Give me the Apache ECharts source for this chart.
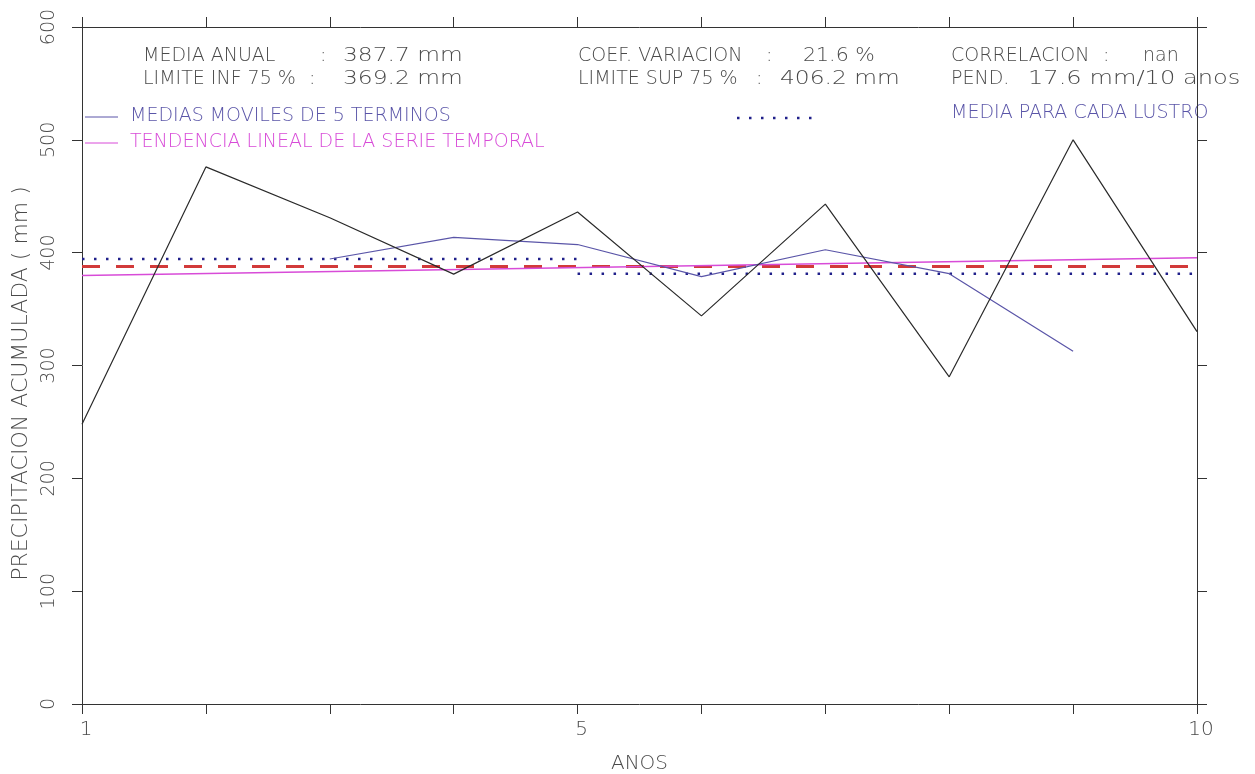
<!DOCTYPE html>
<html>
<head>
<meta charset="utf-8">
<script src="https://cdn.jsdelivr.net/npm/echarts@6/dist/echarts.min.js"></script>
<style>
html,body{margin:0;padding:0;background:#fff;}
#chart{width:1255px;height:774px;}
</style>
</head>
<body>
<div id="chart"></div>
<script>
// ---- data ----
var years = [1, 2, 3, 4, 5, 6, 7, 8, 9, 10];
var annual = [248, 476, 431, 381, 436, 344, 443, 290, 500, 330];
var maYears = [3, 4, 5, 6, 7, 8, 9];
var movingAvg = [394.4, 413.6, 407.2, 378.8, 402.6, 381.4, 312.6];
var trendYears = [1, 10];
var trendValues = [379.8, 395.6];
var meanValue = 387.7;
var lustroStart = [1, 5];
var lustroEnd = [5, 10];
var lustroMeans = [394.4, 381.4];
var xLabelYears = [1, 5, 10];
var yTicks = [0, 100, 200, 300, 400, 500, 600];
var statsLeft = [['MEDIA ANUAL', ':', '387.7 mm'], ['LIMITE INF 75 %', ':', '369.2 mm']];
var statsMid = [['COEF. VARIACION', ':', '21.6 %'], ['LIMITE SUP 75 %', ':', '406.2 mm']];
var statsRight = [['CORRELACION', ':', 'nan'], ['PEND.', '17.6 mm/10 anos']];
var legendTexts = ['MEDIAS MOVILES DE 5 TERMINOS', 'TENDENCIA LINEAL DE LA SERIE TEMPORAL', 'MEDIA PARA CADA LUSTRO'];

var FONT = "'DejaVu Sans', 'Noto Sans', sans-serif";
var W = 200;
var TXT = '#4a4a4a';
var C_MA = '#5a55a8';
var C_TR = '#d84bd8';
var C_MEAN = '#d23a3a';
var C_LU = '#20208a';

function pairs(xs, ys) { return xs.map(function (x, i) { return [x, ys[i]]; }); }

var lustroData = [];
lustroStart.forEach(function (s, i) {
  lustroData.push([s, lustroMeans[i]]);
  lustroData.push([lustroEnd[i], lustroMeans[i]]);
  if (i < lustroStart.length - 1) lustroData.push([lustroEnd[i], '-']);
});

var chart = echarts.init(document.getElementById('chart'), null, {renderer: 'canvas'});

var axisLine = {show: true, onZero: false, lineStyle: {color: '#333', width: 1}};
var tick = {show: true, inside: false, length: 10, lineStyle: {color: '#333', width: 1}};

function font(size) { return W + ' ' + size + 'px ' + FONT; }
function t(x, y, s, color, sx) {
  return {type: 'text', x: x, y: y, scaleX: sx || 1,
    style: {text: s, fill: color || TXT, font: font(19), verticalAlign: 'middle', align: 'left'}};
}

var rowsY = [56, 79];
var graphics = [];
// left block: label, colon, value (value stretched to mimic the wide plotter font)
var leftX = [[143, 320, 343], [143, 309, 343]];
var leftS = [[1, 1, 1.23], [1, 1, 1.23]];
statsLeft.forEach(function (r, i) {
  r.forEach(function (s, j) { graphics.push(t(leftX[i][j], rowsY[i], s, TXT, leftS[i][j])); });
});
var midX = [[578, 766, 803], [578, 756, 780]];
var midS = [[1, 1, 1.08], [1, 1, 1.23]];
statsMid.forEach(function (r, i) {
  r.forEach(function (s, j) { graphics.push(t(midX[i][j], rowsY[i], s, TXT, midS[i][j])); });
});
var rightX = [[951, 1103, 1143], [951, 1028]];
var rightS = [[1, 1, 1], [1, 1.27]];
statsRight.forEach(function (r, i) {
  r.forEach(function (s, j) { graphics.push(t(rightX[i][j], rowsY[i], s, TXT, rightS[i][j])); });
});
// legend samples
graphics.push({type: 'line', shape: {x1: 85, y1: 117, x2: 118, y2: 117}, style: {stroke: C_MA, lineWidth: 1}});
graphics.push(t(130, 116, legendTexts[0], C_MA));
graphics.push({type: 'line', shape: {x1: 85, y1: 143, x2: 118, y2: 143}, style: {stroke: C_TR, lineWidth: 1}});
graphics.push(t(130, 142, legendTexts[1], C_TR));
graphics.push({type: 'line', shape: {x1: 737, y1: 118, x2: 812, y2: 118}, style: {stroke: C_LU, lineWidth: 2.5, lineDash: [2.5, 9.5]}});
graphics.push(t(951, 113, legendTexts[2], C_MA));

var option = {
  animation: false,
  backgroundColor: '#fff',
  grid: {left: 82, right: 58, top: 27, bottom: 70, containLabel: false, outerBoundsMode: 'none'},
  xAxis: [{
    type: 'value', position: 'bottom', min: 1, max: 10, interval: 1,
    axisLine: axisLine, axisTick: tick, splitLine: {show: false},
    axisLabel: {show: true, margin: 16, color: TXT, fontFamily: FONT, fontWeight: W, fontSize: 20, padding: [0, 0, 0, 8],
      formatter: function (v) { return xLabelYears.indexOf(v) >= 0 ? String(v) : ''; }},
    name: 'ANOS', nameLocation: 'middle', nameGap: 50,
    nameTextStyle: {color: TXT, fontFamily: FONT, fontWeight: W, fontSize: 20}
  }, {
    type: 'value', position: 'top', min: 1, max: 10, interval: 1,
    axisLine: axisLine, axisTick: tick, splitLine: {show: false}, axisLabel: {show: false}
  }],
  yAxis: [{
    type: 'value', position: 'left', min: yTicks[0], max: yTicks[yTicks.length - 1], interval: 100,
    axisLine: axisLine, axisTick: tick, splitLine: {show: false},
    axisLabel: {show: true, rotate: 90, margin: 23, color: TXT, fontFamily: FONT, fontWeight: W, fontSize: 19},
    name: 'PRECIPITACION ACUMULADA ( mm )', nameLocation: 'middle', nameRotate: 90, nameGap: 46,
    nameTextStyle: {color: TXT, fontFamily: FONT, fontWeight: W, fontSize: 22, padding: [0, 36, 0, 0]}
  }, {
    type: 'value', position: 'right', min: yTicks[0], max: yTicks[yTicks.length - 1], interval: 100,
    axisLine: axisLine, axisTick: tick, splitLine: {show: false}, axisLabel: {show: false}
  }],
  series: [
    {name: 'lustro', type: 'line', data: lustroData, showSymbol: false, symbol: 'none', connectNulls: false,
      lineStyle: {color: C_LU, width: 2.5, type: [2.5, 9.5], cap: 'butt'}, z: 2},
    {name: 'media', type: 'line', data: pairs(trendYears, [meanValue, meanValue]), symbol: 'none',
      lineStyle: {color: C_MEAN, width: 3, type: [18, 16]}, z: 3},
    {name: 'tendencia', type: 'line', data: pairs(trendYears, trendValues), symbol: 'none',
      lineStyle: {color: C_TR, width: 1.5}, z: 4},
    {name: 'medias moviles', type: 'line', data: pairs(maYears, movingAvg), symbol: 'none',
      lineStyle: {color: C_MA, width: 1.2}, z: 5},
    {name: 'anual', type: 'line', data: pairs(years, annual), symbol: 'none',
      lineStyle: {color: '#2a2a2a', width: 1.2}, z: 6}
  ],
  graphic: graphics
};
chart.setOption(option);
</script>
</body>
</html>
